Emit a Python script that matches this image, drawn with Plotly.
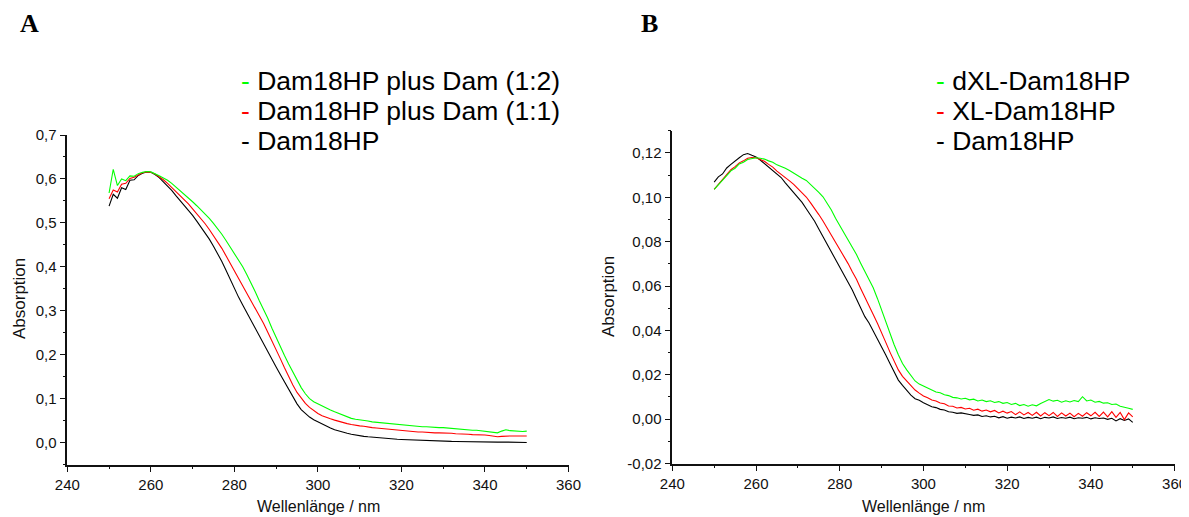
import plotly.graph_objects as go

# ---------------- Panel A data ----------------
wl_a = list(range(250, 351))
a_dam18hp = [0.538,0.565,0.556,0.580,0.576,0.597,0.598,0.608,0.613,0.616,
             0.615,0.610,0.603,0.594,0.585,0.574,0.562,0.551,0.540,0.529,
             0.517,0.504,0.491,0.477,0.463,0.447,0.430,0.412,0.392,0.371,
             0.350,0.331,0.313,0.295,0.277,0.260,0.242,0.224,0.207,0.190,
             0.172,0.155,0.138,0.121,0.104,0.088,0.075,0.066,0.058,0.052,
             0.047,0.042,0.037,0.033,0.029,0.026,0.024,0.021,0.019,0.017,
             0.015,0.014,0.013,0.012,0.011,0.010,0.0095,0.009,0.008,0.0075,
             0.007,0.0065,0.006,0.0058,0.0053,0.005,0.0045,0.0042,0.0038,0.0035,
             0.003,0.0028,0.0026,0.0025,0.0022,0.002,0.0019,0.0018,0.0016,0.0016,
             0.0015,0.0013,0.0012,0.001,0.0012,0.001,0.0008,0.0007,0.0005,0.0004,
             0.0002]
a_dam_11 = [0.555,0.575,0.570,0.588,0.590,0.601,0.604,0.610,0.614,0.616,
            0.615,0.611,0.605,0.598,0.590,0.581,0.572,0.563,0.553,0.543,
            0.532,0.521,0.510,0.498,0.485,0.471,0.457,0.442,0.425,0.408,
            0.390,0.372,0.356,0.340,0.324,0.307,0.290,0.271,0.251,0.232,
            0.213,0.191,0.170,0.150,0.131,0.114,0.100,0.089,0.080,0.072,
            0.066,0.061,0.057,0.054,0.051,0.048,0.045,0.043,0.041,0.039,
            0.038,0.037,0.035,0.034,0.033,0.032,0.031,0.030,0.029,0.028,
            0.027,0.026,0.026,0.025,0.024,0.024,0.023,0.023,0.022,0.022,
            0.022,0.021,0.021,0.020,0.020,0.019,0.019,0.018,0.018,0.017,
            0.017,0.016,0.014,0.013,0.014,0.015,0.015,0.015,0.015,0.015,
            0.015]
a_dam_12 = [0.568,0.622,0.585,0.600,0.596,0.607,0.606,0.612,0.615,0.617,
            0.616,0.612,0.607,0.602,0.597,0.590,0.582,0.574,0.566,0.557,
            0.548,0.539,0.530,0.520,0.510,0.499,0.487,0.474,0.460,0.445,
            0.430,0.416,0.400,0.382,0.364,0.343,0.322,0.303,0.283,0.260,
            0.238,0.218,0.198,0.179,0.160,0.142,0.125,0.111,0.100,0.093,
            0.088,0.083,0.079,0.074,0.070,0.066,0.062,0.058,0.055,0.053,
            0.052,0.050,0.049,0.047,0.046,0.045,0.044,0.043,0.042,0.041,
            0.040,0.039,0.038,0.037,0.037,0.036,0.036,0.035,0.035,0.034,
            0.034,0.033,0.032,0.032,0.031,0.030,0.029,0.028,0.028,0.027,
            0.026,0.025,0.023,0.022,0.026,0.029,0.027,0.026,0.026,0.025,
            0.026]

# ---------------- Panel B data ----------------
wl_b = list(range(250, 351))
b_dam18hp = [0.1068,0.1092,0.1105,0.1132,0.1148,0.1165,0.1178,0.1192,0.1197,0.1189,
             0.1182,0.1168,0.1152,0.1136,0.1121,0.1108,0.1089,0.1065,0.1042,0.1023,
             0.0998,0.0977,0.0948,0.0921,0.0892,0.0857,0.0823,0.0786,0.0752,0.0718,
             0.0683,0.0655,0.0618,0.0582,0.0541,0.0503,0.0462,0.0433,0.0398,0.0361,
             0.0322,0.0289,0.0251,0.0214,0.0176,0.0152,0.0128,0.0108,0.0092,0.0085,
             0.0074,0.0066,0.0056,0.0052,0.0044,0.0041,0.0033,0.0031,0.0026,0.0028,
             0.0023,0.0021,0.0017,0.0019,0.0012,0.0015,0.0010,0.0013,0.0006,0.0011,
             0.0004,0.0009,0.0005,0.0010,0.0003,0.0008,0.0004,0.0009,0.0002,0.0008,
             0.0005,0.0010,0.0003,0.0007,0.0004,0.0009,0.0002,0.0006,0.0004,0.0008,
             0.0001,0.0006,0.0003,0.0005,-0.0001,0.0004,-0.0008,0.0002,-0.0006,0.0001,
             -0.0015]
b_xl = [0.1036,0.1058,0.1079,0.1102,0.1124,0.1138,0.1155,0.1164,0.1176,0.1179,
        0.1178,0.1170,0.1162,0.1148,0.1136,0.1118,0.1104,0.1091,0.1074,0.1058,
        0.1040,0.1021,0.1001,0.0976,0.0951,0.0922,0.0893,0.0861,0.0831,0.0795,
        0.0763,0.0731,0.0701,0.0664,0.0630,0.0589,0.0552,0.0511,0.0472,0.0432,
        0.0392,0.0346,0.0302,0.0262,0.0222,0.0193,0.0171,0.0148,0.0131,0.0117,
        0.0104,0.0096,0.0086,0.0082,0.0073,0.0069,0.0059,0.0058,0.0050,0.0053,
        0.0046,0.0049,0.0040,0.0045,0.0036,0.0041,0.0033,0.0039,0.0028,0.0036,
        0.0027,0.0034,0.0020,0.0033,0.0019,0.0030,0.0017,0.0031,0.0014,0.0029,
        0.0016,0.0030,0.0012,0.0028,0.0014,0.0027,0.0011,0.0026,0.0013,0.0029,
        0.0015,0.0031,0.0012,0.0032,0.0010,0.0034,0.0008,0.0030,-0.0002,0.0028,
        0.0010]
b_dxl = [0.1035,0.1057,0.1081,0.1098,0.1119,0.1131,0.1150,0.1158,0.1170,0.1175,
         0.1178,0.1176,0.1172,0.1164,0.1158,0.1146,0.1139,0.1131,0.1121,0.1108,
         0.1099,0.1086,0.1076,0.1059,0.1043,0.1022,0.1002,0.0972,0.0943,0.0905,
         0.0872,0.0841,0.0809,0.0776,0.0742,0.0703,0.0668,0.0628,0.0592,0.0544,
         0.0492,0.0438,0.0382,0.0335,0.0290,0.0251,0.0222,0.0196,0.0172,0.0158,
         0.0149,0.0138,0.0131,0.0122,0.0119,0.0110,0.0106,0.0098,0.0096,0.0091,
         0.0094,0.0087,0.0090,0.0082,0.0086,0.0079,0.0083,0.0075,0.0079,0.0071,
         0.0075,0.0066,0.0071,0.0061,0.0066,0.0058,0.0065,0.0060,0.0070,0.0078,
         0.0088,0.0081,0.0085,0.0076,0.0083,0.0077,0.0084,0.0079,0.0101,0.0082,
         0.0086,0.0076,0.0080,0.0072,0.0074,0.0066,0.0068,0.0058,0.0055,0.0049,
         0.0044]

# ---------------- Labels ----------------
legend_a = ["Dam18HP plus Dam (1:2)", "Dam18HP plus Dam (1:1)", "Dam18HP"]
legend_b = ["dXL-Dam18HP", "XL-Dam18HP", "Dam18HP"]
legend_colors = ["#00ff00", "#ff0000", "#000000"]
x_ticks = [240, 260, 280, 300, 320, 340, 360]
x_ticktext = ["240", "260", "280", "300", "320", "340", "360"]
ya_ticks = [0.0, 0.1, 0.2, 0.3, 0.4, 0.5, 0.6, 0.7]
ya_ticktext = ["0,0", "0,1", "0,2", "0,3", "0,4", "0,5", "0,6", "0,7"]
yb_ticks = [-0.02, 0.0, 0.02, 0.04, 0.06, 0.08, 0.10, 0.12]
yb_ticktext = ["-0,02", "0,00", "0,02", "0,04", "0,06", "0,08", "0,10", "0,12"]

# The page body has an 8px margin, so the figure is offset by 8px.
OFF = 8
W, H = 1189 - OFF, 517 - OFF
FONT = "Arial, Liberation Sans, sans-serif"

fig = go.Figure()

series_a = [(a_dam18hp, "#000000"), (a_dam_11, "#ff0000"), (a_dam_12, "#00ff00")]
series_b = [(b_dam18hp, "#000000"), (b_xl, "#ff0000"), (b_dxl, "#00ff00")]
for ys, col in series_a:
    fig.add_trace(go.Scatter(x=wl_a, y=ys, mode="lines", line=dict(color=col, width=1.1),
                             xaxis="x", yaxis="y", showlegend=False, hoverinfo="skip"))
for ys, col in series_b:
    fig.add_trace(go.Scatter(x=wl_b, y=ys, mode="lines", line=dict(color=col, width=1.1),
                             xaxis="x2", yaxis="y2", showlegend=False, hoverinfo="skip"))

def px_x(p):
    return (p - OFF) / W

def px_y(p):
    return 1 - (p - OFF) / H

axis_common = dict(showline=True, linecolor="#111", linewidth=1.5, ticks="outside",
                   ticklen=6, tickwidth=1.3, tickcolor="#111", showgrid=False,
                   zeroline=False, mirror=False, automargin=False,
                   tickfont=dict(family=FONT, size=15, color="#111"))

fig.update_layout(
    width=W, height=H,
    margin=dict(l=0, r=0, t=0, b=0),
    paper_bgcolor="white", plot_bgcolor="white",
    xaxis=dict(domain=[px_x(67.3), px_x(568.5)], range=[240, 360], anchor="y",
               tickvals=x_ticks, ticktext=x_ticktext,
               minor=dict(ticks="outside", ticklen=3, dtick=10, tick0=240, tickcolor="#111"),
               **axis_common),
    yaxis=dict(domain=[px_y(464.5), px_y(135)], range=[-0.05, 0.7], anchor="x",
               tickvals=ya_ticks, ticktext=ya_ticktext,
               minor=dict(ticks="outside", ticklen=3, dtick=0.05, tick0=0, tickcolor="#111"),
               **axis_common),
    xaxis2=dict(domain=[px_x(672.3), px_x(1174.6)], range=[240, 360], anchor="y2",
                tickvals=x_ticks, ticktext=x_ticktext,
                minor=dict(ticks="outside", ticklen=3, dtick=10, tick0=240, tickcolor="#111"),
                **axis_common),
    yaxis2=dict(domain=[px_y(463.5), px_y(130.7)], range=[-0.02, 0.13], anchor="x2",
                tickvals=yb_ticks, ticktext=yb_ticktext,
                minor=dict(ticks="outside", ticklen=3, dtick=0.01, tick0=0, tickcolor="#111"),
                **axis_common),
)

ann = []
serif = "Liberation Serif, Times New Roman, serif"
# panel letters
for letter, xc in (("A", 29.5), ("B", 649)):
    ann.append(dict(text=f"<b>{letter}</b>", x=px_x(xc), y=px_y(24), xref="paper", yref="paper",
                    xanchor="center", yanchor="middle", showarrow=False,
                    font=dict(family=serif, size=26, color="#000")))
# legends
rows = [81, 111, 141]
for i in range(3):
    ann.append(dict(text=f"<span style='color:{legend_colors[i]}'>-</span> {legend_a[i]}",
                    x=px_x(239), y=px_y(rows[i]), xref="paper", yref="paper", xanchor="left",
                    yanchor="middle", showarrow=False, font=dict(family=FONT, size=26.5, color="#000")))
    ann.append(dict(text=f"<span style='color:{legend_colors[i]}'>-</span> {legend_b[i]}",
                    x=px_x(934), y=px_y(rows[i]), xref="paper", yref="paper", xanchor="left",
                    yanchor="middle", showarrow=False, font=dict(family=FONT, size=26.5, color="#000")))
# axis titles
for xc in (318, 923.5):
    ann.append(dict(text="Wellenlänge / nm", x=px_x(xc), y=px_y(506), xref="paper", yref="paper",
                    xanchor="center", yanchor="middle", showarrow=False,
                    font=dict(family=FONT, size=16, color="#111")))
for xc, yc in ((19, 299), (608, 297)):
    ann.append(dict(text="Absorption", x=px_x(xc), y=px_y(yc), xref="paper", yref="paper",
                    xanchor="center", yanchor="middle", showarrow=False, textangle=-90,
                    font=dict(family=FONT, size=17, color="#111")))
fig.update_layout(annotations=ann)

fig.write_html("out.html")
